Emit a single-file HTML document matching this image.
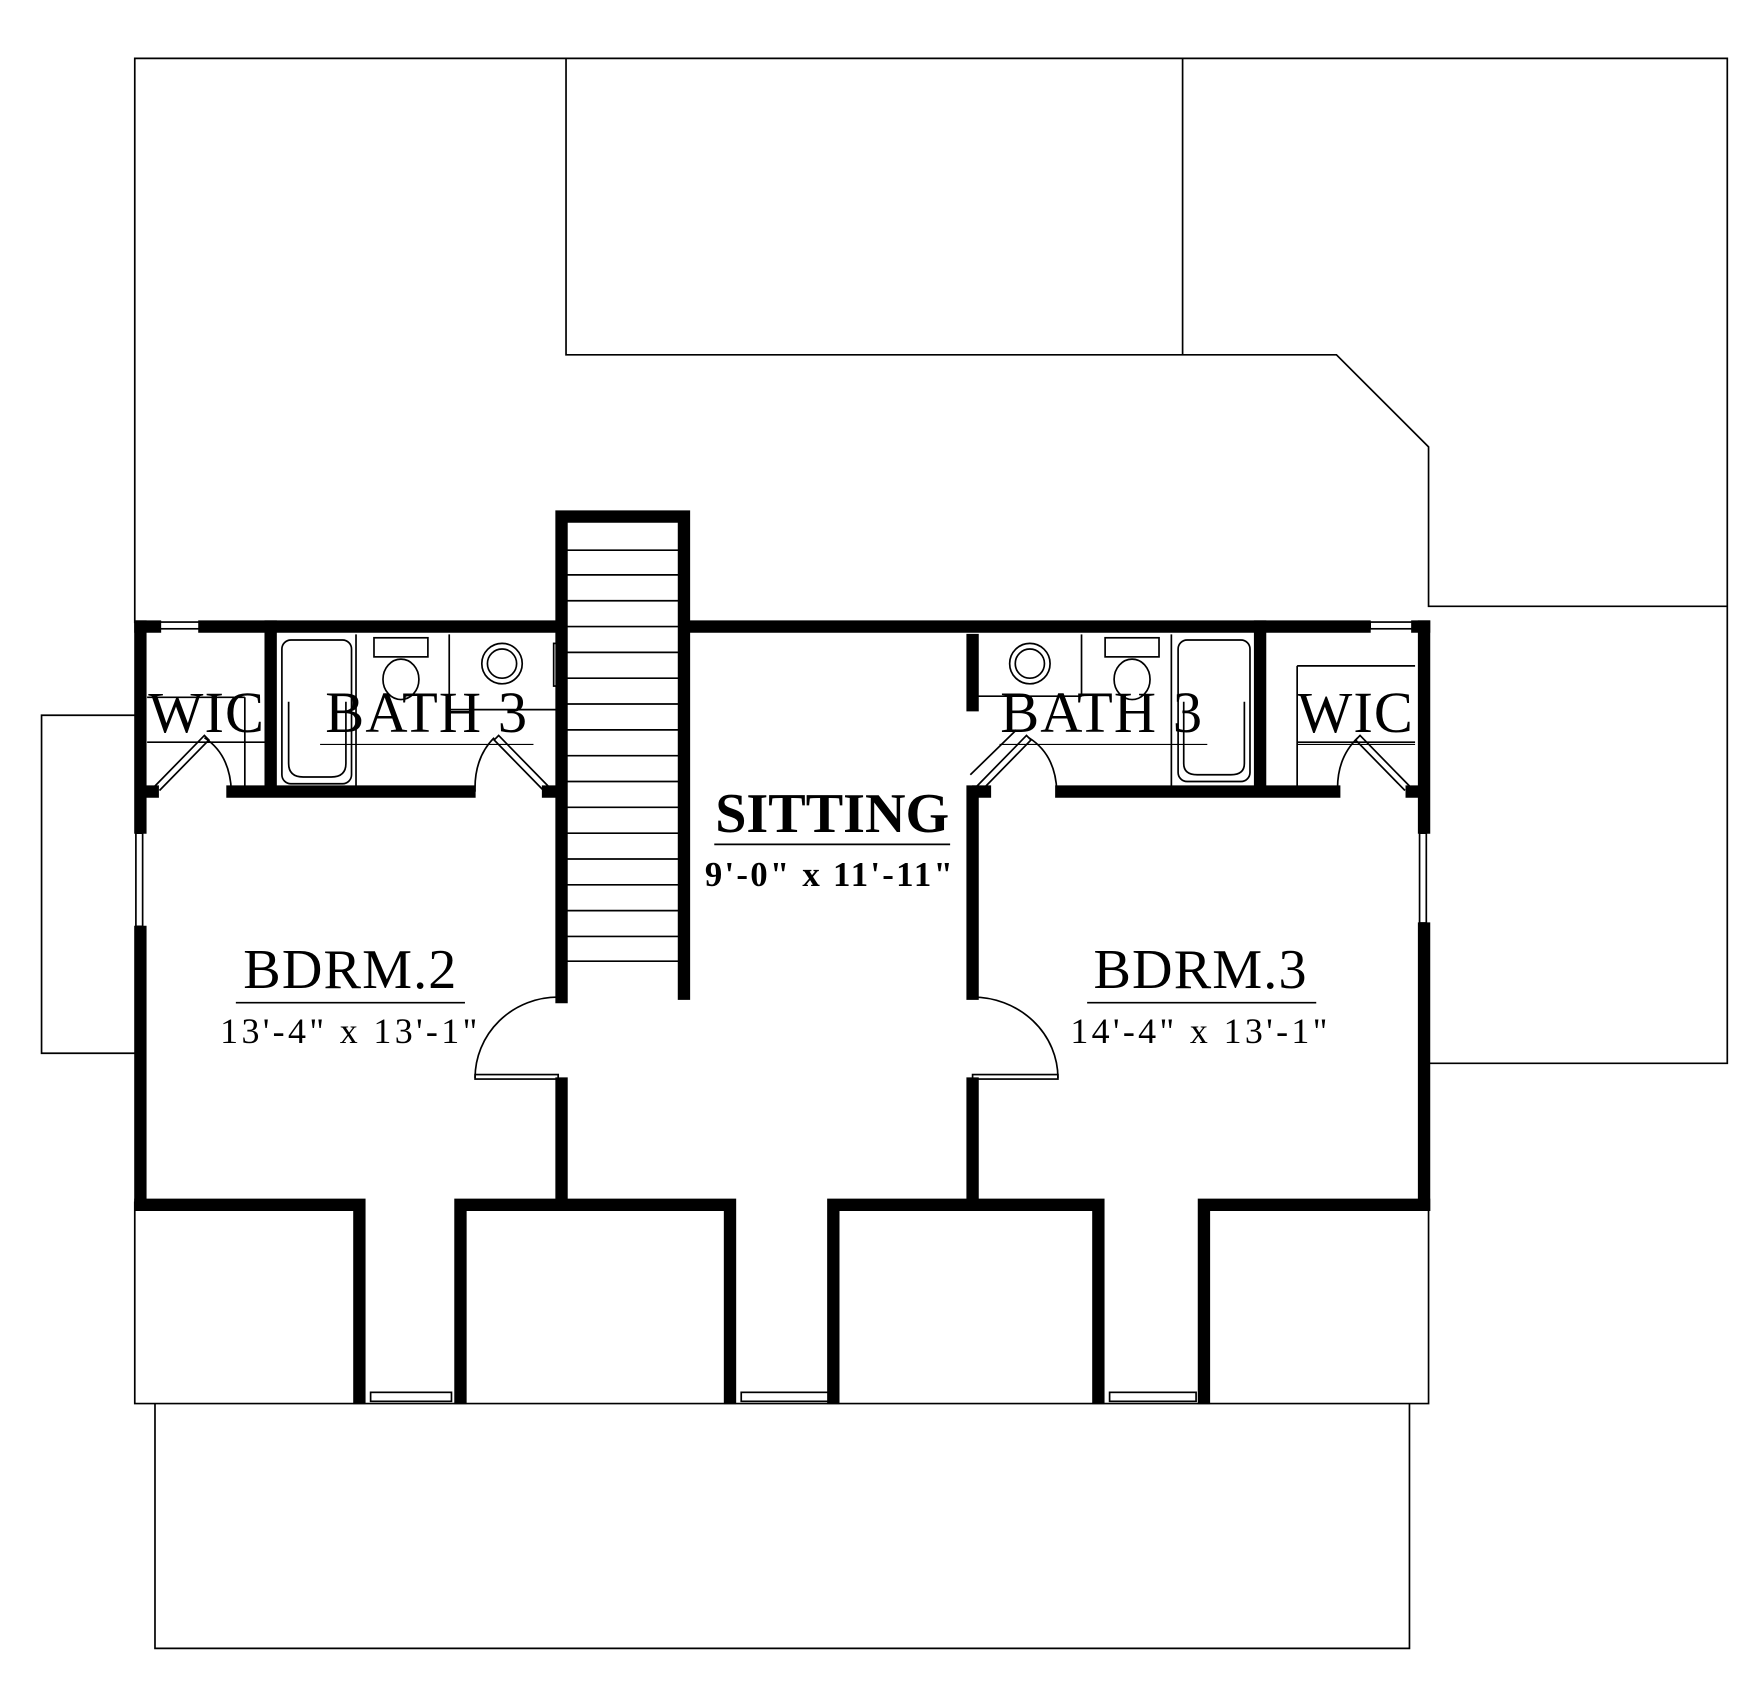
<!DOCTYPE html>
<html><head><meta charset="utf-8"><style>html,body{margin:0;padding:0;background:#fff}svg{display:block}</style></head>
<body>
<svg width="1752" height="1700" viewBox="0 0 1560 1514" xmlns="http://www.w3.org/2000/svg" preserveAspectRatio="none">
<g fill="none" stroke="#000" stroke-width="1.5">
<polyline points="120,555 120,52 1538,52 1538,947 1272,947"/>
<polyline points="504,52 504,316 1190,316 1272,398 1272,540 1538,540"/>
<line x1="1053" y1="52" x2="1053" y2="316"/>
<polyline points="120,637 37,637 37,938 120,938"/>
<polyline points="120,1070 120,1250 1272,1250 1272,1070"/>
<polyline points="138,1250 138,1468 1255,1468 1255,1250"/>
<g stroke-width="1.5">
<line x1="505" y1="490" x2="604" y2="490"/><line x1="505" y1="512" x2="604" y2="512"/>
<line x1="505" y1="535" x2="604" y2="535"/><line x1="505" y1="558" x2="604" y2="558"/>
<line x1="505" y1="581" x2="604" y2="581"/><line x1="505" y1="604" x2="604" y2="604"/>
<line x1="505" y1="627" x2="604" y2="627"/><line x1="505" y1="650" x2="604" y2="650"/>
<line x1="505" y1="673" x2="604" y2="673"/><line x1="505" y1="696" x2="604" y2="696"/>
<line x1="505" y1="719" x2="604" y2="719"/><line x1="505" y1="742" x2="604" y2="742"/>
<line x1="505" y1="765" x2="604" y2="765"/><line x1="505" y1="788" x2="604" y2="788"/>
<line x1="505" y1="811" x2="604" y2="811"/><line x1="505" y1="834" x2="604" y2="834"/>
<line x1="505" y1="856" x2="604" y2="856"/>
</g>
<line x1="131" y1="621" x2="218" y2="621"/><line x1="131" y1="661" x2="238" y2="661"/>
<line x1="218" y1="621" x2="218" y2="700"/>
<line x1="1155" y1="593" x2="1260" y2="593"/><line x1="1155" y1="661" x2="1260" y2="661"/>
<line x1="1155" y1="593" x2="1155" y2="700"/>
<rect x="251" y="570" width="62" height="128" rx="8"/>
<path d="M257,625 L257,680 Q257,692 270,692 L295,692 Q308,692 308,680 L308,625"/>
<line x1="317" y1="565" x2="317" y2="700"/><line x1="400" y1="565" x2="400" y2="632"/>
<line x1="400" y1="632" x2="495" y2="632"/>
<rect x="333" y="568" width="48" height="17"/>
<ellipse cx="357" cy="605" rx="16" ry="18"/>
<circle cx="447" cy="591" r="18"/><circle cx="447" cy="591" r="13"/>
<rect x="493" y="573" width="5" height="38"/>
<line x1="285" y1="663" x2="475" y2="663" stroke-width="1"/>
<rect x="1049" y="570" width="64" height="126" rx="8"/>
<path d="M1054,625 L1054,680 Q1054,690 1066,690 L1096,690 Q1108,690 1108,680 L1108,625"/>
<line x1="1043" y1="565" x2="1043" y2="700"/><line x1="963" y1="565" x2="963" y2="620"/>
<line x1="866" y1="620" x2="963" y2="620"/>
<rect x="984" y="568" width="48" height="17"/>
<ellipse cx="1008" cy="605" rx="16" ry="18"/>
<circle cx="917" cy="591" r="18"/><circle cx="917" cy="591" r="13"/>
<rect x="863" y="573" width="5" height="38"/>
<line x1="890" y1="663" x2="1075" y2="663" stroke-width="1"/>
<line x1="1155" y1="663" x2="1260" y2="663" stroke-width="1"/>
<path d="M138,700 L182,655 L186,659 L142,704"/><path d="M182,657 Q205,672 206,705"/>
<path d="M488,700 L444,655 L440,659 L484,704"/><path d="M440,657 Q422,675 423,705"/>
<path d="M870,700 L914,655 L918,659 L874,704"/><path d="M864,690 L905,650"/><path d="M916,657 Q940,672 941,705"/>
<path d="M1255,700 L1211,655 L1207,659 L1251,704"/><path d="M1209,657 Q1190,675 1191,705"/>
<path d="M497,888 A74,72 0 0 0 423,960"/><rect x="423" y="957" width="74" height="4"/>
<path d="M866,888 A76,72 0 0 1 942,960"/><rect x="866" y="957" width="76" height="4"/>
<rect x="140" y="554" width="38" height="6"/><rect x="1220" y="554" width="38" height="6"/>
<rect x="121" y="742" width="6" height="83"/><rect x="1264" y="742" width="6" height="80"/>
<rect x="330" y="1240" width="72" height="8"/><rect x="660" y="1240" width="80" height="8"/><rect x="988" y="1240" width="77" height="8"/>
<line x1="210" y1="893" x2="414" y2="893"/><line x1="968" y1="893" x2="1172" y2="893"/>
<line x1="636" y1="752" x2="846" y2="752"/>
</g>
<g fill="none" stroke="#000" stroke-width="11" stroke-linecap="square">
<line x1="125" y1="558" x2="138" y2="558"/><line x1="182" y1="558" x2="497" y2="558"/>
<line x1="613" y1="558" x2="1215" y2="558"/><line x1="1262" y1="558" x2="1268" y2="558"/>
<line x1="125" y1="558" x2="125" y2="737"/><line x1="125" y1="830" x2="125" y2="1073"/>
<line x1="1268" y1="558" x2="1268" y2="737"/><line x1="1268" y1="827" x2="1268" y2="1073"/>
<polyline points="125,1073 320,1073 320,1245"/>
<polyline points="410,1245 410,1073 650,1073 650,1245"/>
<polyline points="742,1245 742,1073 978,1073 978,1245"/>
<polyline points="1072,1245 1072,1073 1268,1073"/>
<polyline points="500,888 500,460 609,460 609,885"/>
<line x1="500" y1="965" x2="500" y2="1070"/>
<line x1="866" y1="705" x2="866" y2="885"/><line x1="866" y1="965" x2="866" y2="1070"/>
<line x1="241" y1="558" x2="241" y2="700"/><line x1="1122" y1="558" x2="1122" y2="700"/>
<line x1="207" y1="705" x2="418" y2="705"/><line x1="488" y1="705" x2="497" y2="705"/>
<line x1="945" y1="705" x2="1188" y2="705"/>
<line x1="130" y1="705" x2="136" y2="705"/><line x1="871" y1="705" x2="877" y2="705"/><line x1="1257" y1="705" x2="1263" y2="705"/>
<line x1="866" y1="570" x2="866" y2="628"/>
</g>
<g font-family="'Liberation Serif',serif" fill="#000" text-anchor="middle">
<text x="184" y="652" font-size="52" letter-spacing="1">WIC</text>
<text x="380" y="652" font-size="52" letter-spacing="1">BATH 3</text>
<text x="981" y="652" font-size="52" letter-spacing="1">BATH 3</text>
<text x="1207" y="652" font-size="52" letter-spacing="1">WIC</text>
<text x="741" y="741" font-size="50" font-weight="bold">SITTING</text>
<text x="739" y="789" font-size="31" font-weight="bold" letter-spacing="2">9'-0" x 11'-11"</text>
<text x="312" y="880" font-size="50" letter-spacing="1">BDRM.2</text>
<text x="312" y="929" font-size="32" letter-spacing="3">13'-4" x 13'-1"</text>
<text x="1069" y="880" font-size="50" letter-spacing="1">BDRM.3</text>
<text x="1069" y="929" font-size="32" letter-spacing="3">14'-4" x 13'-1"</text>
</g>
</svg>
</body></html>
